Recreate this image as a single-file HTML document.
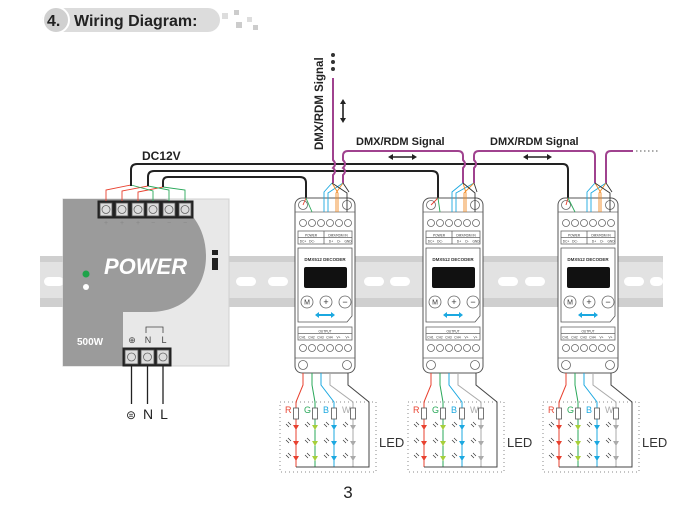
<!DOCTYPE html>
<html><head><meta charset="utf-8"><style>
html,body{margin:0;padding:0;background:#fff;}
svg{display:block;font-family:"Liberation Sans",sans-serif;}
</style></head><body>
<svg width="700" height="515" viewBox="0 0 700 515" xmlns="http://www.w3.org/2000/svg">
<!-- header -->
<rect x="42" y="8" width="178" height="24" rx="12" fill="#dcdcdc"/>
<circle cx="56" cy="20" r="13" fill="#d0d0d0" stroke="#fff" stroke-width="2"/>
<text x="47" y="26" font-size="16" font-weight="bold" fill="#222">4.</text>
<text x="74" y="26" font-size="16" font-weight="bold" fill="#222">Wiring Diagram:</text>
<rect x="222" y="13" width="6" height="6" fill="#ddd"/><rect x="234" y="10" width="5" height="5" fill="#ccc"/><rect x="236" y="22" width="6" height="6" fill="#ccc"/><rect x="247" y="17" width="5" height="5" fill="#ddd"/><rect x="253" y="25" width="5" height="5" fill="#ccc"/>

<!-- rail -->
<rect x="40" y="256" width="623" height="51" fill="#cfcfcf"/>
<rect x="40" y="262" width="623" height="36" fill="#e2e2e2"/>
<g fill="#fff">
<rect x="44" y="277" width="20" height="9" rx="4.5"/><rect x="236" y="277" width="20" height="9" rx="4.5"/><rect x="268" y="277" width="20" height="9" rx="4.5"/>
<rect x="364" y="277" width="20" height="9" rx="4.5"/><rect x="390" y="277" width="20" height="9" rx="4.5"/><rect x="498" y="277" width="20" height="9" rx="4.5"/><rect x="525" y="277" width="20" height="9" rx="4.5"/>
<rect x="624" y="277" width="20" height="9" rx="4.5"/><rect x="650" y="277" width="13" height="9" rx="4.5"/>
</g>

<!-- PSU -->
<rect x="63" y="199" width="166" height="167" fill="#e8e8e8" stroke="#d0d0d0"/>
<path d="M63,199 H165 C190,205 206,228 206,256 C206,288 185,312 150,312 H123 V366 H63 Z" fill="#9b9b9b"/>
<text x="104" y="274" font-size="22" font-weight="bold" font-style="italic" fill="#fff">POWER</text>
<circle cx="86" cy="274" r="3.5" fill="#1fa34a"/><circle cx="86" cy="287" r="3" fill="#fff"/>
<text x="77" y="345" font-size="10" font-weight="bold" fill="#fff">500W</text>
<rect x="212" y="250" width="6" height="5" fill="#222"/><rect x="212" y="258" width="6" height="12" fill="#222"/>
<g font-size="9" fill="#444" text-anchor="middle"><text x="132" y="343">⊕</text><text x="148" y="343">N</text><text x="164" y="343">L</text></g>
<path d="M146,333 V327 H163 V333" fill="none" stroke="#444" stroke-width="0.8"/>
<g stroke="#222" stroke-width="1" fill="#fff">
<rect x="98" y="201" width="95" height="17" fill="#222"/>
<rect x="123" y="348" width="48" height="18" fill="#222"/>
</g>
<g fill="#ddd" stroke="#555" stroke-width="0.8">
<rect x="100" y="203" width="12" height="13"/><rect x="116" y="203" width="12" height="13"/><rect x="132" y="203" width="12" height="13"/><rect x="147" y="203" width="12" height="13"/><rect x="163" y="203" width="12" height="13"/><rect x="179" y="203" width="12" height="13"/>
<rect x="125" y="350" width="13" height="14"/><rect x="141" y="350" width="13" height="14"/><rect x="157" y="350" width="12" height="14"/>
</g>
<g fill="none" stroke="#666" stroke-width="0.8">
<circle cx="106" cy="209.5" r="4"/><circle cx="122" cy="209.5" r="4"/><circle cx="138" cy="209.5" r="4"/><circle cx="153" cy="209.5" r="4"/><circle cx="169" cy="209.5" r="4"/><circle cx="185" cy="209.5" r="4"/>
<circle cx="131.5" cy="357" r="4"/><circle cx="147.5" cy="357" r="4"/><circle cx="163" cy="357" r="4"/>
</g>
<g font-size="7" fill="#888" text-anchor="middle"><text x="106" y="225">+</text><text x="122" y="225">+</text><text x="138" y="225">+</text><text x="153" y="225">−</text><text x="169" y="225">−</text><text x="185" y="225">−</text></g>
<g stroke="#222" stroke-width="1.3"><line x1="131.5" y1="366" x2="131.5" y2="404"/><line x1="147.5" y1="366" x2="147.5" y2="404"/><line x1="163" y1="366" x2="163" y2="404"/></g>
<g font-size="14" fill="#222" text-anchor="middle"><text x="131" y="419" font-size="12">⊜</text><text x="148" y="419">N</text><text x="164" y="419">L</text></g>
<!-- PSU fan wires -->
<g fill="none" stroke-width="0.9">
<path d="M131,185 L106,190 V201 M148,186 L122,191 V201 M163,187 L138,192 V201" stroke="#e8412f"/>
<path d="M131,185 L153,191 V201 M148,186 L169,190 V201 M163,187 L185,190 V201" stroke="#2aa85a"/>
</g>

<text x="142" y="160" font-size="12" font-weight="bold" fill="#222">DC12V</text>
<!-- DC black wires -->
<g fill="none" stroke="#222" stroke-width="2">
<path d="M131,186 V170 Q131,164 137,164 H563 Q568,164 568,170 V198"/>
<path d="M148,186 V177 Q148,171 154,171 H432 Q438,171 438,177 V198"/>
<path d="M163,187 V182 Q163,177 168,177 H300 Q306,177 306,183 V198"/>
</g>

<!-- DMX purple -->
<g fill="none" stroke="#a0428f" stroke-width="2">
<path d="M333,78 V160 Q337,164 333,168 Q337,171 333,175 V183"/>
<path d="M343,183 V175 Q347,171 343,168 Q347,164 343,160 V156 Q343,151 348,151 H458 Q463,151 463,156 V160 Q467,164 463,168 V183"/>
<path d="M474,183 V168 Q478,164 474,160 V156 Q474,151 479,151 H590 Q595,151 595,156 V183"/>
<path d="M606,183 V156 Q606,151 611,151 H633"/>
</g>
<path d="M636,151 H660" stroke="#555" stroke-width="1" stroke-dasharray="1.5,2.5"/>
<g fill="#333"><circle cx="333" cy="55" r="2"/><circle cx="333" cy="62" r="2"/><circle cx="333" cy="69" r="2"/></g>
<text transform="translate(323,150) rotate(-90)" font-size="11.5" font-weight="bold" fill="#222">DMX/RDM Signal</text>
<g stroke="#222" stroke-width="1.6" fill="#222">
<line x1="343" y1="103" x2="343" y2="119"/><path d="M340,104 L343,99 L346,104Z M340,118 L343,123 L346,118Z" stroke="none"/>
<line x1="393" y1="157" x2="412" y2="157"/><path d="M393,154 L388,157 L393,160Z M412,154 L417,157 L412,160Z" stroke="none"/>
<line x1="528" y1="157" x2="547" y2="157"/><path d="M528,154 L523,157 L528,160Z M547,154 L552,157 L547,160Z" stroke="none"/>
</g>
<text x="356" y="145" font-size="11" font-weight="bold" fill="#222">DMX/RDM Signal</text>
<text x="490" y="145" font-size="11" font-weight="bold" fill="#222">DMX/RDM Signal</text>

<!-- Decoders -->
<g transform="translate(295,198)">
<rect x="0" y="0" width="60" height="175" rx="7" fill="#fff" stroke="#555"/>
<g fill="none" stroke="#666" stroke-width="0.8"><line x1="0" y1="14" x2="60" y2="14"/><line x1="0" y1="160" x2="60" y2="160"/>
<circle cx="8" cy="7" r="4.5"/><circle cx="52" cy="7" r="4.5"/><circle cx="8" cy="167" r="4.5"/><circle cx="52" cy="167" r="4.5"/>
<circle cx="8" cy="25" r="3.5"/><circle cx="17" cy="25" r="3.5"/><circle cx="26" cy="25" r="3.5"/><circle cx="35" cy="25" r="3.5"/><circle cx="44" cy="25" r="3.5"/><circle cx="53" cy="25" r="3.5"/>
<circle cx="8" cy="150" r="3.5"/><circle cx="17" cy="150" r="3.5"/><circle cx="26" cy="150" r="3.5"/><circle cx="35" cy="150" r="3.5"/><circle cx="44" cy="150" r="3.5"/><circle cx="53" cy="150" r="3.5"/>
<rect x="3" y="33" width="54" height="13"/><line x1="3" y1="39.5" x2="57" y2="39.5"/><line x1="29" y1="33" x2="29" y2="46"/>
<path d="M3,50 H57 V118 L52,124 H3 Z" stroke="#555"/>
<rect x="3" y="129" width="54" height="13"/><line x1="3" y1="135.5" x2="57" y2="135.5"/>
<circle cx="12" cy="104" r="6"/><circle cx="31" cy="104" r="6"/><circle cx="50" cy="104" r="6"/></g>
<g font-size="3.2" fill="#333" text-anchor="middle"><text x="16" y="38.5">POWER</text><text x="43" y="38.5">DMX/RDM IN</text><text x="8" y="44.5">DC+</text><text x="17" y="44.5">DC-</text><text x="36" y="44.5">D+</text><text x="44" y="44.5">D-</text><text x="53" y="44.5">GND</text>
<text x="30" y="134.5">OUTPUT</text><text x="7.5" y="140.5">CH1</text><text x="16.5" y="140.5">CH2</text><text x="25.5" y="140.5">CH3</text><text x="34.5" y="140.5">CH4</text><text x="43.5" y="140.5">V+</text><text x="52.5" y="140.5">V+</text>
<text x="30" y="63" font-size="4.5" font-weight="bold">DMX512 DECODER</text>
<text x="12" y="106.5" font-size="7">M</text><text x="31" y="107" font-size="9">+</text><text x="50" y="107" font-size="9">−</text></g>
<rect x="9" y="69" width="43" height="21" rx="2" fill="#111"/>
<path d="M20,117 L24,114 V116 H36 V114 L40,117 L36,120 V118 H24 V120 Z" fill="#1ba8e0"/>
</g>

<g transform="translate(423,198)">
<rect x="0" y="0" width="60" height="175" rx="7" fill="#fff" stroke="#555"/>
<g fill="none" stroke="#666" stroke-width="0.8"><line x1="0" y1="14" x2="60" y2="14"/><line x1="0" y1="160" x2="60" y2="160"/>
<circle cx="8" cy="7" r="4.5"/><circle cx="52" cy="7" r="4.5"/><circle cx="8" cy="167" r="4.5"/><circle cx="52" cy="167" r="4.5"/>
<circle cx="8" cy="25" r="3.5"/><circle cx="17" cy="25" r="3.5"/><circle cx="26" cy="25" r="3.5"/><circle cx="35" cy="25" r="3.5"/><circle cx="44" cy="25" r="3.5"/><circle cx="53" cy="25" r="3.5"/>
<circle cx="8" cy="150" r="3.5"/><circle cx="17" cy="150" r="3.5"/><circle cx="26" cy="150" r="3.5"/><circle cx="35" cy="150" r="3.5"/><circle cx="44" cy="150" r="3.5"/><circle cx="53" cy="150" r="3.5"/>
<rect x="3" y="33" width="54" height="13"/><line x1="3" y1="39.5" x2="57" y2="39.5"/><line x1="29" y1="33" x2="29" y2="46"/>
<path d="M3,50 H57 V118 L52,124 H3 Z" stroke="#555"/>
<rect x="3" y="129" width="54" height="13"/><line x1="3" y1="135.5" x2="57" y2="135.5"/>
<circle cx="12" cy="104" r="6"/><circle cx="31" cy="104" r="6"/><circle cx="50" cy="104" r="6"/></g>
<g font-size="3.2" fill="#333" text-anchor="middle"><text x="16" y="38.5">POWER</text><text x="43" y="38.5">DMX/RDM IN</text><text x="8" y="44.5">DC+</text><text x="17" y="44.5">DC-</text><text x="36" y="44.5">D+</text><text x="44" y="44.5">D-</text><text x="53" y="44.5">GND</text>
<text x="30" y="134.5">OUTPUT</text><text x="7.5" y="140.5">CH1</text><text x="16.5" y="140.5">CH2</text><text x="25.5" y="140.5">CH3</text><text x="34.5" y="140.5">CH4</text><text x="43.5" y="140.5">V+</text><text x="52.5" y="140.5">V+</text>
<text x="30" y="63" font-size="4.5" font-weight="bold">DMX512 DECODER</text>
<text x="12" y="106.5" font-size="7">M</text><text x="31" y="107" font-size="9">+</text><text x="50" y="107" font-size="9">−</text></g>
<rect x="9" y="69" width="43" height="21" rx="2" fill="#111"/>
<path d="M20,117 L24,114 V116 H36 V114 L40,117 L36,120 V118 H24 V120 Z" fill="#1ba8e0"/>
</g>

<g transform="translate(558,198)">
<rect x="0" y="0" width="60" height="175" rx="7" fill="#fff" stroke="#555"/>
<g fill="none" stroke="#666" stroke-width="0.8"><line x1="0" y1="14" x2="60" y2="14"/><line x1="0" y1="160" x2="60" y2="160"/>
<circle cx="8" cy="7" r="4.5"/><circle cx="52" cy="7" r="4.5"/><circle cx="8" cy="167" r="4.5"/><circle cx="52" cy="167" r="4.5"/>
<circle cx="8" cy="25" r="3.5"/><circle cx="17" cy="25" r="3.5"/><circle cx="26" cy="25" r="3.5"/><circle cx="35" cy="25" r="3.5"/><circle cx="44" cy="25" r="3.5"/><circle cx="53" cy="25" r="3.5"/>
<circle cx="8" cy="150" r="3.5"/><circle cx="17" cy="150" r="3.5"/><circle cx="26" cy="150" r="3.5"/><circle cx="35" cy="150" r="3.5"/><circle cx="44" cy="150" r="3.5"/><circle cx="53" cy="150" r="3.5"/>
<rect x="3" y="33" width="54" height="13"/><line x1="3" y1="39.5" x2="57" y2="39.5"/><line x1="29" y1="33" x2="29" y2="46"/>
<path d="M3,50 H57 V118 L52,124 H3 Z" stroke="#555"/>
<rect x="3" y="129" width="54" height="13"/><line x1="3" y1="135.5" x2="57" y2="135.5"/>
<circle cx="12" cy="104" r="6"/><circle cx="31" cy="104" r="6"/><circle cx="50" cy="104" r="6"/></g>
<g font-size="3.2" fill="#333" text-anchor="middle"><text x="16" y="38.5">POWER</text><text x="43" y="38.5">DMX/RDM IN</text><text x="8" y="44.5">DC+</text><text x="17" y="44.5">DC-</text><text x="36" y="44.5">D+</text><text x="44" y="44.5">D-</text><text x="53" y="44.5">GND</text>
<text x="30" y="134.5">OUTPUT</text><text x="7.5" y="140.5">CH1</text><text x="16.5" y="140.5">CH2</text><text x="25.5" y="140.5">CH3</text><text x="34.5" y="140.5">CH4</text><text x="43.5" y="140.5">V+</text><text x="52.5" y="140.5">V+</text>
<text x="30" y="63" font-size="4.5" font-weight="bold">DMX512 DECODER</text>
<text x="12" y="106.5" font-size="7">M</text><text x="31" y="107" font-size="9">+</text><text x="50" y="107" font-size="9">−</text></g>
<rect x="9" y="69" width="43" height="21" rx="2" fill="#111"/>
<path d="M20,117 L24,114 V116 H36 V114 L40,117 L36,120 V118 H24 V120 Z" fill="#1ba8e0"/>
</g>

<!-- decoder fan wires (top, drawn over decoders) -->
<g fill="none" stroke-width="0.9">
<g transform="translate(295,0)">
<path d="M37,183 L29,192 V212 M48,183 L33,193 V212" stroke="#1ba8e0"/><path d="M37,183 L43,193 V212 M48,183 L41,193 V212" stroke="#f08a24"/><path d="M37,183 L52,193 V212 M48,183 L54,192" stroke="#333"/>
<path d="M11,198 L8,205" stroke="#e8412f"/><path d="M11,198 L17,212" stroke="#2aa85a"/></g>
<g transform="translate(423,0)">
<path d="M40,183 L29,192 V212 M51,183 L33,193 V212" stroke="#1ba8e0"/><path d="M40,183 L43,193 V212 M51,183 L41,193 V212" stroke="#f08a24"/><path d="M40,183 L52,193 V212 M51,183 L54,192" stroke="#333"/>
<path d="M15,198 L8,205" stroke="#e8412f"/><path d="M15,198 L17,212" stroke="#2aa85a"/></g>
<g transform="translate(558,0)">
<path d="M37,183 L29,192 V212 M48,183 L33,193 V212" stroke="#1ba8e0"/><path d="M37,183 L43,193 V212 M48,183 L41,193 V212" stroke="#f08a24"/><path d="M37,183 L52,193 V212 M48,183 L54,192" stroke="#333"/>
<path d="M10,198 L8,205" stroke="#e8412f"/><path d="M10,198 L17,212" stroke="#2aa85a"/></g>
</g>

<!-- LED panels -->
<g transform="translate(280,0)">
<rect x="0" y="402" width="96" height="70" fill="none" stroke="#888" stroke-dasharray="1,3"/>
<g fill="none" stroke-width="1">
<path d="M23,373 V385 L16,402 V467" stroke="#e8412f"/>
<path d="M32,373 V385 L35,402 V467" stroke="#2aa85a"/>
<path d="M41,373 V385 L54,402 V467" stroke="#1ba8e0"/>
<path d="M50,373 V385 L73,402 V467" stroke="#aaa"/>
<path d="M68,373 V385 L89,402 V467 H16" stroke="#444"/>
</g>
<g fill="#fff" stroke="#555" stroke-width="0.8"><rect x="13.5" y="408" width="5" height="11"/><rect x="32.5" y="408" width="5" height="11"/><rect x="51.5" y="408" width="5" height="11"/><rect x="70.5" y="408" width="5" height="11"/></g>
<g font-size="9"><text x="5" y="413" fill="#e8412f">R</text><text x="24" y="413" fill="#2aa85a">G</text><text x="43" y="413" fill="#1ba8e0">B</text><text x="62" y="413" fill="#aaa">W</text></g>
<g fill="#e8412f"><path d="M13,425 H19 L16,430Z M13,441 H19 L16,446Z M13,456 H19 L16,461Z"/></g>
<g fill="#a6cf3a"><path d="M32,425 H38 L35,430Z M32,441 H38 L35,446Z M32,456 H38 L35,461Z"/></g>
<g fill="#1ba8e0"><path d="M51,425 H57 L54,430Z M51,441 H57 L54,446Z M51,456 H57 L54,461Z"/></g>
<g fill="#aaa"><path d="M70,425 H76 L73,430Z M70,441 H76 L73,446Z M70,456 H76 L73,461Z"/></g>
<g stroke="#333" stroke-width="0.7"><path d="M6,424 l3,3 M8,422 l3,3 M6,440 l3,3 M8,438 l3,3 M6,455 l3,3 M8,453 l3,3 M25,424 l3,3 M27,422 l3,3 M25,440 l3,3 M27,438 l3,3 M25,455 l3,3 M27,453 l3,3 M44,424 l3,3 M46,422 l3,3 M44,440 l3,3 M46,438 l3,3 M44,455 l3,3 M46,453 l3,3 M63,424 l3,3 M65,422 l3,3 M63,440 l3,3 M65,438 l3,3 M63,455 l3,3 M65,453 l3,3"/></g>
<text x="99" y="447" font-size="13" fill="#333">LED</text>
</g>
<g transform="translate(408,0)">
<rect x="0" y="402" width="96" height="70" fill="none" stroke="#888" stroke-dasharray="1,3"/>
<g fill="none" stroke-width="1">
<path d="M23,373 V385 L16,402 V467" stroke="#e8412f"/>
<path d="M32,373 V385 L35,402 V467" stroke="#2aa85a"/>
<path d="M41,373 V385 L54,402 V467" stroke="#1ba8e0"/>
<path d="M50,373 V385 L73,402 V467" stroke="#aaa"/>
<path d="M68,373 V385 L89,402 V467 H16" stroke="#444"/>
</g>
<g fill="#fff" stroke="#555" stroke-width="0.8"><rect x="13.5" y="408" width="5" height="11"/><rect x="32.5" y="408" width="5" height="11"/><rect x="51.5" y="408" width="5" height="11"/><rect x="70.5" y="408" width="5" height="11"/></g>
<g font-size="9"><text x="5" y="413" fill="#e8412f">R</text><text x="24" y="413" fill="#2aa85a">G</text><text x="43" y="413" fill="#1ba8e0">B</text><text x="62" y="413" fill="#aaa">W</text></g>
<g fill="#e8412f"><path d="M13,425 H19 L16,430Z M13,441 H19 L16,446Z M13,456 H19 L16,461Z"/></g>
<g fill="#a6cf3a"><path d="M32,425 H38 L35,430Z M32,441 H38 L35,446Z M32,456 H38 L35,461Z"/></g>
<g fill="#1ba8e0"><path d="M51,425 H57 L54,430Z M51,441 H57 L54,446Z M51,456 H57 L54,461Z"/></g>
<g fill="#aaa"><path d="M70,425 H76 L73,430Z M70,441 H76 L73,446Z M70,456 H76 L73,461Z"/></g>
<g stroke="#333" stroke-width="0.7"><path d="M6,424 l3,3 M8,422 l3,3 M6,440 l3,3 M8,438 l3,3 M6,455 l3,3 M8,453 l3,3 M25,424 l3,3 M27,422 l3,3 M25,440 l3,3 M27,438 l3,3 M25,455 l3,3 M27,453 l3,3 M44,424 l3,3 M46,422 l3,3 M44,440 l3,3 M46,438 l3,3 M44,455 l3,3 M46,453 l3,3 M63,424 l3,3 M65,422 l3,3 M63,440 l3,3 M65,438 l3,3 M63,455 l3,3 M65,453 l3,3"/></g>
<text x="99" y="447" font-size="13" fill="#333">LED</text>
</g>
<g transform="translate(543,0)">
<rect x="0" y="402" width="96" height="70" fill="none" stroke="#888" stroke-dasharray="1,3"/>
<g fill="none" stroke-width="1">
<path d="M23,373 V385 L16,402 V467" stroke="#e8412f"/>
<path d="M32,373 V385 L35,402 V467" stroke="#2aa85a"/>
<path d="M41,373 V385 L54,402 V467" stroke="#1ba8e0"/>
<path d="M50,373 V385 L73,402 V467" stroke="#aaa"/>
<path d="M68,373 V385 L89,402 V467 H16" stroke="#444"/>
</g>
<g fill="#fff" stroke="#555" stroke-width="0.8"><rect x="13.5" y="408" width="5" height="11"/><rect x="32.5" y="408" width="5" height="11"/><rect x="51.5" y="408" width="5" height="11"/><rect x="70.5" y="408" width="5" height="11"/></g>
<g font-size="9"><text x="5" y="413" fill="#e8412f">R</text><text x="24" y="413" fill="#2aa85a">G</text><text x="43" y="413" fill="#1ba8e0">B</text><text x="62" y="413" fill="#aaa">W</text></g>
<g fill="#e8412f"><path d="M13,425 H19 L16,430Z M13,441 H19 L16,446Z M13,456 H19 L16,461Z"/></g>
<g fill="#a6cf3a"><path d="M32,425 H38 L35,430Z M32,441 H38 L35,446Z M32,456 H38 L35,461Z"/></g>
<g fill="#1ba8e0"><path d="M51,425 H57 L54,430Z M51,441 H57 L54,446Z M51,456 H57 L54,461Z"/></g>
<g fill="#aaa"><path d="M70,425 H76 L73,430Z M70,441 H76 L73,446Z M70,456 H76 L73,461Z"/></g>
<g stroke="#333" stroke-width="0.7"><path d="M6,424 l3,3 M8,422 l3,3 M6,440 l3,3 M8,438 l3,3 M6,455 l3,3 M8,453 l3,3 M25,424 l3,3 M27,422 l3,3 M25,440 l3,3 M27,438 l3,3 M25,455 l3,3 M27,453 l3,3 M44,424 l3,3 M46,422 l3,3 M44,440 l3,3 M46,438 l3,3 M44,455 l3,3 M46,453 l3,3 M63,424 l3,3 M65,422 l3,3 M63,440 l3,3 M65,438 l3,3 M63,455 l3,3 M65,453 l3,3"/></g>
<text x="99" y="447" font-size="13" fill="#333">LED</text>
</g>

<text x="348" y="498" font-size="17" fill="#222" text-anchor="middle">3</text>
</svg>
</body></html>
